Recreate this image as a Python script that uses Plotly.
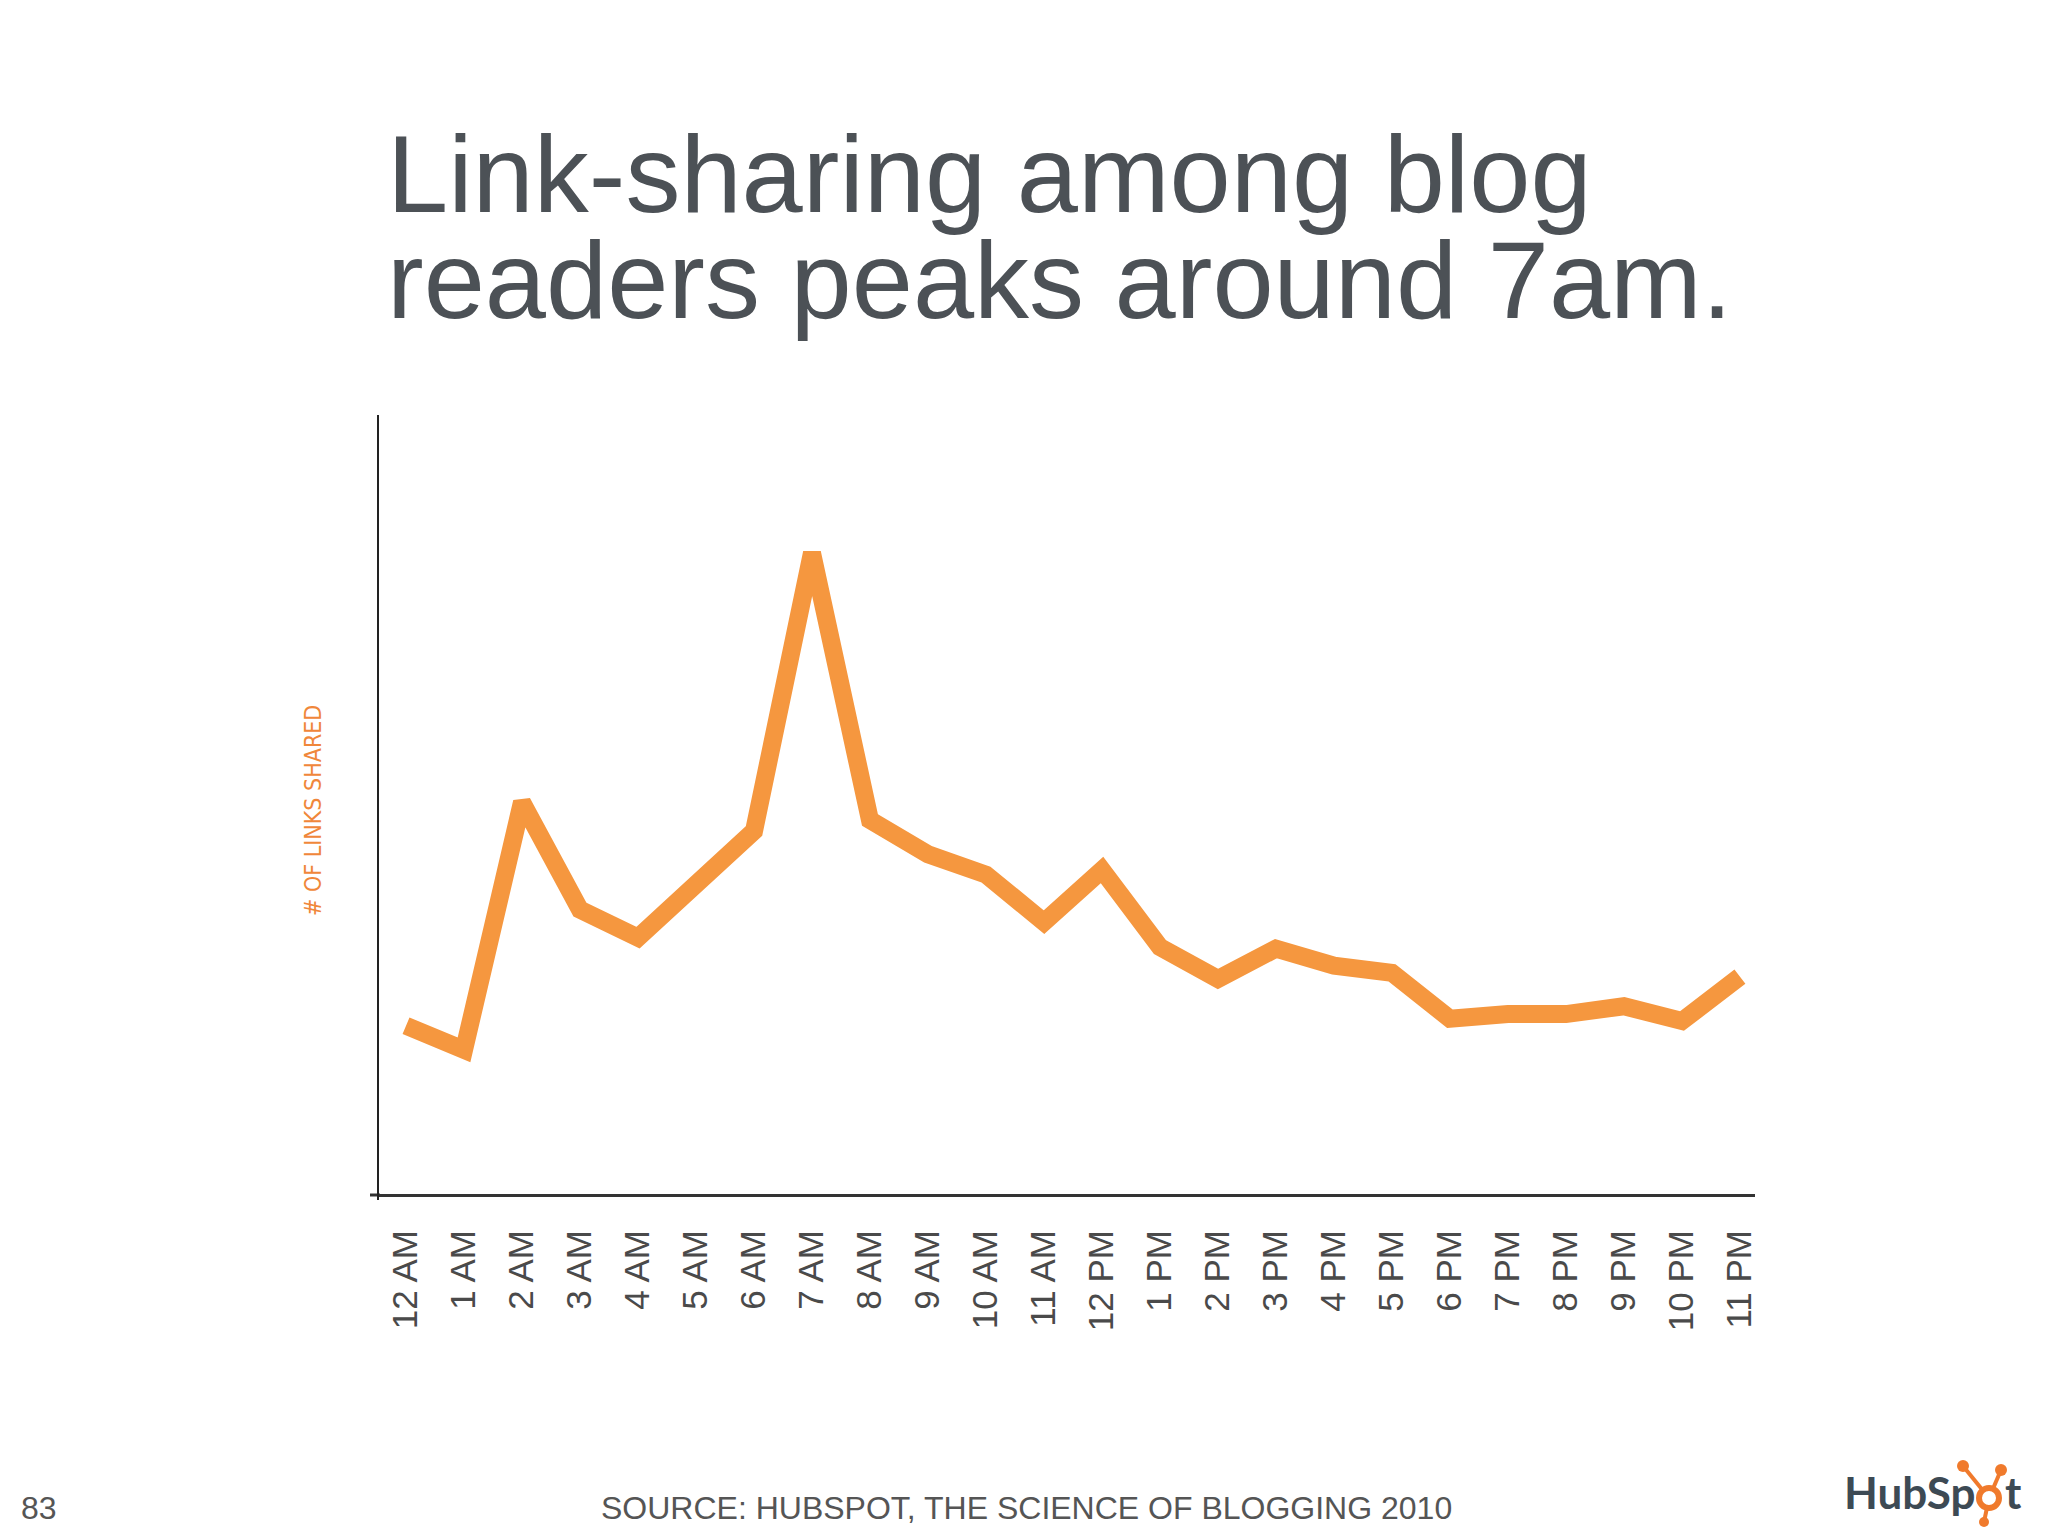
import plotly.graph_objects as go

# ---- data (arbitrary units, axis 0..100) ----
hours = ["12 AM", "1 AM", "2 AM", "3 AM", "4 AM", "5 AM", "6 AM", "7 AM",
         "8 AM", "9 AM", "10 AM", "11 AM", "12 PM", "1 PM", "2 PM", "3 PM",
         "4 PM", "5 PM", "6 PM", "7 PM", "8 PM", "9 PM", "10 PM", "11 PM"]
links_shared = [21.6, 18.5, 50.3, 36.5, 32.9, 39.5, 46.6, 82.3,
                48.0, 43.6, 41.0, 34.9, 41.6, 31.7, 27.6, 31.5,
                29.3, 28.4, 22.5, 23.1, 23.1, 24.1, 22.2, 27.9]

title_lines = ["Link-sharing among blog", "readers peaks around 7am."]
y_label = "# OF LINKS SHARED"
source_text = "SOURCE: HUBSPOT, THE SCIENCE OF BLOGGING 2010"
page_number = "83"

W, H = 2048, 1536
OFF = 8                                  # page body margin of the html page
PL, PR, PT, PB = 379, 1755, 415, 1194   # plot area in reference pixels


def px(x):
    return (x - PL) / (PR - PL)


def py(y):
    return (PB - y) / (PB - PT)


fig = go.Figure()
fig.add_trace(go.Scatter(
    x=hours, y=links_shared, mode="lines",
    line=dict(color="#F5973F", width=18, shape="linear"),
    hoverinfo="x+y", showlegend=False,
))

fig.update_layout(
    width=W, height=H,
    margin=dict(l=PL - OFF, r=W - PR + OFF, t=PT - OFF, b=H - PB + OFF, pad=0),
    paper_bgcolor="white", plot_bgcolor="white",
    showlegend=False,
    xaxis=dict(
        type="category", range=[-0.466, 23.26],
        showline=True, linecolor="#333333", linewidth=3,
        showgrid=False, zeroline=False,
        ticks="outside", ticklen=0, tickcolor="rgba(0,0,0,0)",
        ticklabelstandoff=19, tickangle=-90,
        tickfont=dict(family="Liberation Sans, Arial, sans-serif", size=35, color="#4a4a4a"),
    ),
    yaxis=dict(
        range=[0, 100],
        showline=True, linecolor="#222222", linewidth=2,
        showgrid=False, zeroline=False, showticklabels=False, ticks="",
    ),
)

# small overshoots of the axis lines at the origin
fig.add_shape(type="line", xref="paper", yref="paper",
              x0=px(370), x1=px(380), y0=py(1195), y1=py(1195),
              line=dict(color="#333333", width=3))
fig.add_shape(type="line", xref="paper", yref="paper",
              x0=px(378), x1=px(378), y0=py(1190), y1=py(1200),
              line=dict(color="#222222", width=2))

title_font = dict(family="Liberation Sans, Arial, sans-serif", size=110, color="#4c5156")
for line_text, yc in zip(title_lines, [173, 279]):
    fig.add_annotation(text=line_text, xref="paper", yref="paper",
                       x=px(385), y=py(yc), xanchor="left", yanchor="middle",
                       showarrow=False, font=title_font)

fig.add_annotation(text=y_label, xref="paper", yref="paper",
                   x=px(313), y=py(811), xanchor="center", yanchor="middle",
                   textangle=-90, showarrow=False,
                   font=dict(family="DejaVu Sans Condensed, Liberation Sans Narrow, Liberation Sans",
                             size=23, color="#F0873A"))

fig.add_annotation(text=source_text, xref="paper", yref="paper",
                   x=px(599), y=py(1508), xanchor="left", yanchor="middle",
                   showarrow=False,
                   font=dict(family="Liberation Sans, Arial, sans-serif", size=32, color="#555555"))
fig.add_annotation(text=page_number, xref="paper", yref="paper",
                   x=px(19), y=py(1508), xanchor="left", yanchor="middle",
                   showarrow=False,
                   font=dict(family="Liberation Sans, Arial, sans-serif", size=32, color="#555555"))

# HubSpot logo (text + sprocket)
logo_font = dict(family="Lato, Open Sans, sans-serif", size=44, color="#3D4A54", weight="bold")
fig.add_annotation(text="HubSp", xref="paper", yref="paper",
                   x=px(1977), y=py(1492), xanchor="right", yanchor="middle",
                   showarrow=False, font=logo_font)
fig.add_annotation(text="t", xref="paper", yref="paper",
                   x=px(2003), y=py(1492), xanchor="left", yanchor="middle",
                   showarrow=False, font=logo_font)
orange = "#F07A2C"
cx, cy, r = 1989, 1498, 10
for (ex, ey, rr) in [(1963, 1466, 6), (2001, 1470, 6), (1984, 1522, 5)]:
    fig.add_shape(type="line", xref="paper", yref="paper",
                  x0=px(cx), y0=py(cy), x1=px(ex), y1=py(ey),
                  line=dict(color=orange, width=4))
    fig.add_shape(type="circle", xref="paper", yref="paper",
                  x0=px(ex - rr), x1=px(ex + rr), y0=py(ey - rr), y1=py(ey + rr),
                  line=dict(color=orange, width=0), fillcolor=orange)
fig.add_shape(type="circle", xref="paper", yref="paper",
              x0=px(cx - r), x1=px(cx + r), y0=py(cy - r), y1=py(cy + r),
              line=dict(color=orange, width=6), fillcolor="white")

fig.write_html("out.html")
